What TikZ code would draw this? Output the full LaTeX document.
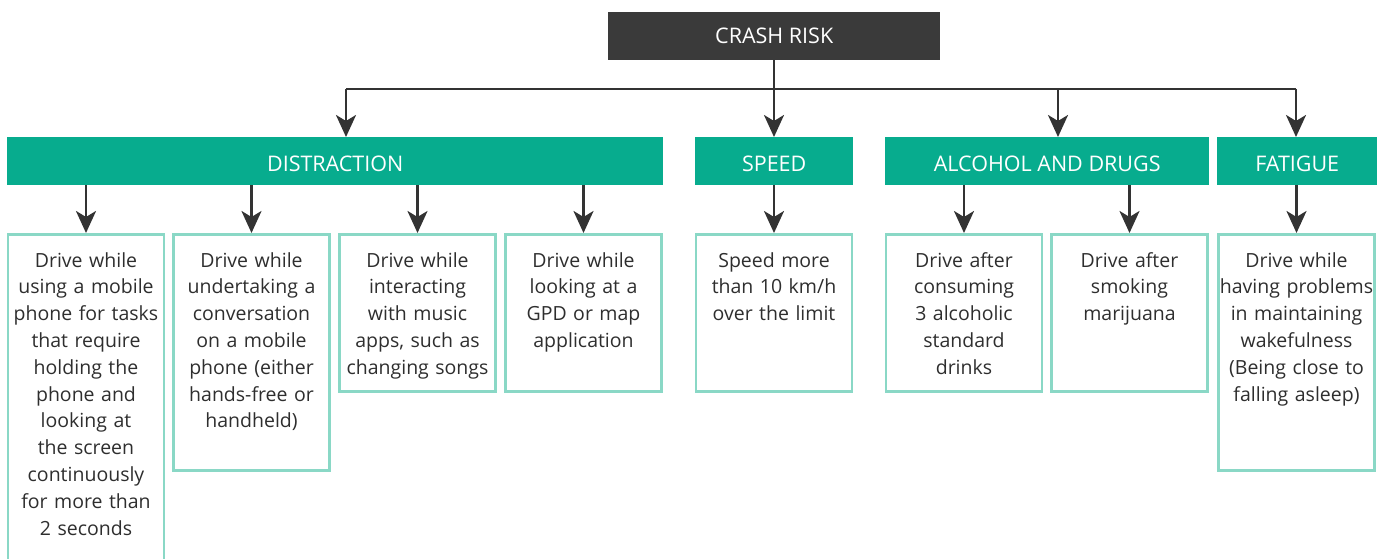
\documentclass[tikz,border=0pt]{standalone}
\usepackage{fontspec}
\setmainfont{Open Sans}
\usetikzlibrary{arrows.meta}
\definecolor{darkbox}{HTML}{3A3A3A}
\definecolor{catgreen}{HTML}{07AC8E}
\definecolor{litegreen}{HTML}{8AD8C6}
\definecolor{txtgray}{HTML}{2E2E2E}
\definecolor{arrgray}{HTML}{333333}
\begin{document}
\begin{tikzpicture}[x=1pt,y=1pt,
  topbox/.style={fill=darkbox, text=white, inner sep=0, anchor=north west,
    text height=15.6pt, text depth=0pt, font=\fontsize{21.5}{24}\selectfont},
  catbox/.style={fill=catgreen, text=white, inner sep=0, anchor=north west,
    text height=21pt, text depth=0pt, minimum height=48, font=\fontsize{21.5}{24}\selectfont},
  leafbox/.style={draw=litegreen, line width=2.5, inner sep=0, anchor=north,
    minimum width=156},
  leaftext/.style={text=txtgray, inner sep=0, anchor=north, text width=156, align=center,
    font=\fontsize{19.5}{26.8}\selectfont},
  conn/.style={draw=arrgray, line width=2.8},
  arr/.style={conn, -{Stealth[length=22pt,width=20pt,inset=6pt]}}
]
\useasboundingbox (0,0) rectangle (1381,-559);
\clip (0,0) rectangle (1381,-559);

% top
\node[topbox, minimum width=332, minimum height=48] (crash) at (608,-12) {CRASH RISK};

% categories
\node[catbox, minimum width=656] (dist) at (7,-137) {DISTRACTION};
\node[catbox, minimum width=158] (speed) at (695,-137) {SPEED};
\node[catbox, minimum width=324] (alc) at (885,-137) {ALCOHOL AND DRUGS};
\node[catbox, minimum width=160] (fat) at (1217,-137) {FATIGUE};

% junction coordinates
\coordinate (jc) at (774,-89);
\coordinate (jd) at (346,-89);
\coordinate (ja) at (1058,-89);
\coordinate (jf) at (1296,-89);

\draw[conn] (jd) -- (jf);
\draw[arr] (crash.south -| jc) -- (speed.north -| jc);
\draw[arr] (jd) -- (dist.north -| jd);
\draw[arr] (ja) -- (alc.north -| ja);
\draw[arr] (jf) -- (fat.north -| jf);

% leaves
\node[leafbox, minimum height=340] (l1) at (86,-233) {};
\node[leafbox, minimum height=236] (l2) at (251.5,-233) {};
\node[leafbox, minimum height=157] (l3) at (417.5,-233) {};
\node[leafbox, minimum height=157] (l4) at (583.5,-233) {};
\node[leafbox, minimum height=157] (l5) at (774,-233) {};
\node[leafbox, minimum height=157] (l6) at (964,-233) {};
\node[leafbox, minimum height=157] (l7) at (1129.5,-233) {};
\node[leafbox, minimum height=236] (l8) at (1296.5,-233) {};

\foreach \n/\c in {l1/dist,l2/dist,l3/dist,l4/dist,l5/speed,l6/alc,l7/alc,l8/fat}{
  \draw[arr] (\c.south -| \n.north) -- (\n.north);
}

\node[leaftext] at ([yshift=-19]l1.north) {Drive while\\using a mobile\\phone for tasks\\that require\\holding the\\phone and\\looking at\\the screen\\continuously\\for more than\\2 seconds};
\node[leaftext] at ([yshift=-19]l2.north) {Drive while\\undertaking a\\conversation\\on a mobile\\phone (either\\hands-free or\\handheld)};
\node[leaftext] at ([yshift=-19]l3.north) {Drive while\\interacting\\with music\\apps, such as\\changing songs};
\node[leaftext] at ([yshift=-19]l4.north) {Drive while\\looking at a\\GPD or map\\application};
\node[leaftext] at ([yshift=-19]l5.north) {Speed more\\than 10 km/h\\over the limit};
\node[leaftext] at ([yshift=-19]l6.north) {Drive after\\consuming\\3 alcoholic\\standard\\drinks};
\node[leaftext] at ([yshift=-19]l7.north) {Drive after\\smoking\\marijuana};
\node[leaftext] at ([yshift=-19]l8.north) {Drive while\\having problems\\in maintaining\\wakefulness\\(Being close to\\falling asleep)};
\end{tikzpicture}
\end{document}
